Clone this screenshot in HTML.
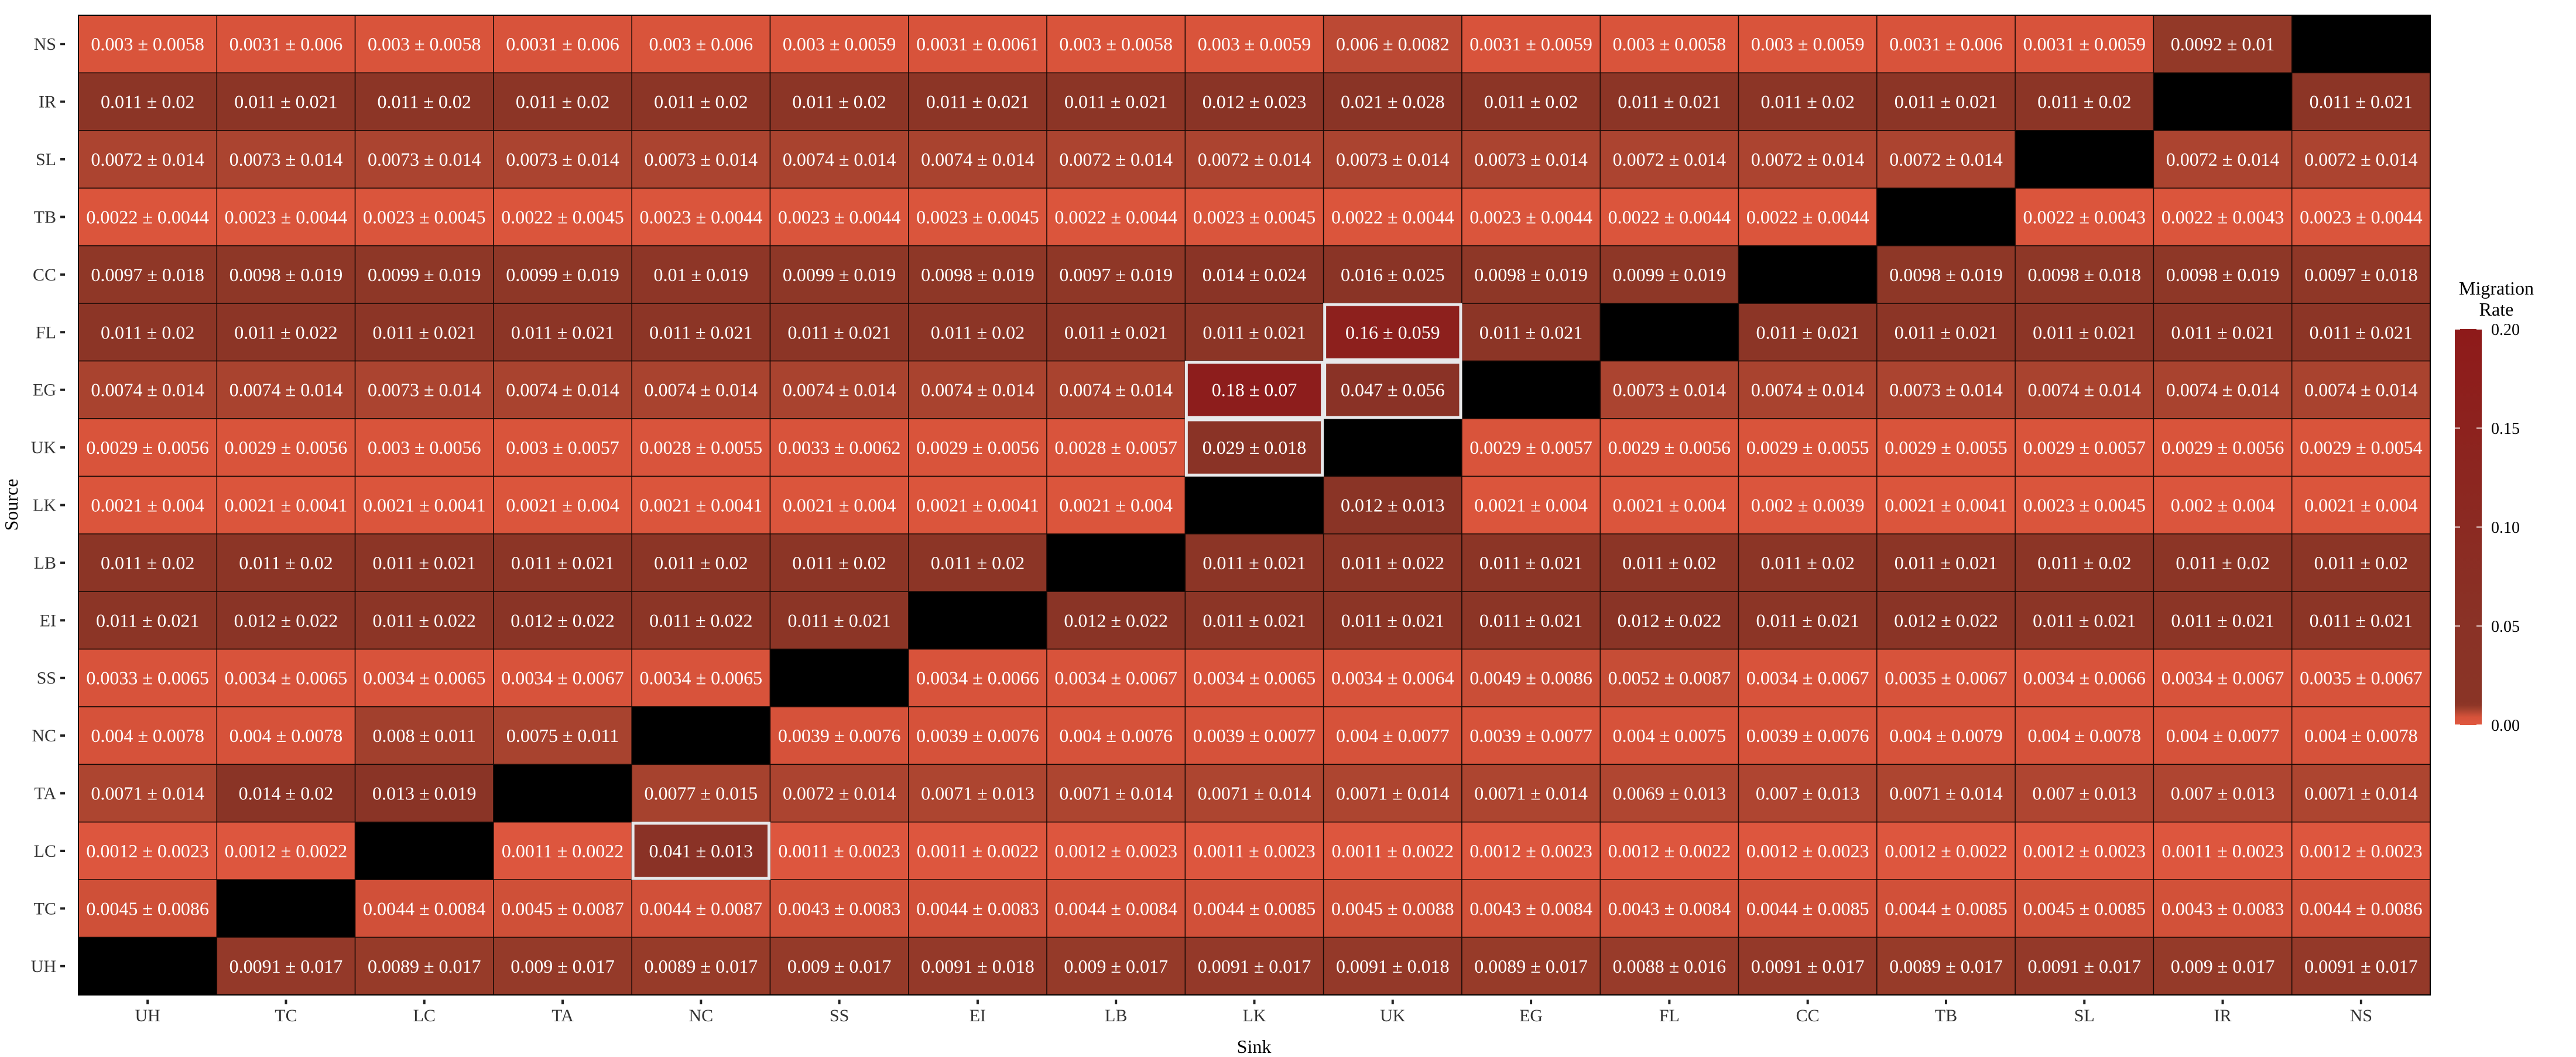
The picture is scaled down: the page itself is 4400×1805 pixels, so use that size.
<!DOCTYPE html>
<html><head><meta charset="utf-8"><style>
html,body{margin:0;padding:0;background:#fff;}
svg{display:block;font-family:"Liberation Serif",serif;}
</style></head><body>
<svg id="chart" width="4400" height="1805" viewBox="0 0 4400 1805" xmlns="http://www.w3.org/2000/svg">
<rect x="0" y="0" width="4400" height="1805" fill="#fff"/>
<g id="cells"></g>
<g id="hl"></g>
<g id="yaxis"></g>
<g id="xaxis"></g>
<text x="0" y="0" transform="translate(30,862) rotate(-90)" text-anchor="middle" font-size="32" fill="#000">Source</text>
<text x="2142" y="1798" text-anchor="middle" font-size="32" fill="#000">Sink</text>
<g id="legend"></g>
</svg>
<script>
const rowLabels = ["NS","IR","SL","TB","CC","FL","EG","UK","LK","LB","EI","SS","NC","TA","LC","TC","UH"];
const colLabels = ["UH","TC","LC","TA","NC","SS","EI","LB","LK","UK","EG","FL","CC","TB","SL","IR","NS"];
const means = [
[0.003,0.0031,0.003,0.0031,0.003,0.003,0.0031,0.003,0.003,0.006,0.0031,0.003,0.003,0.0031,0.0031,0.0092,null],
[0.011,0.011,0.011,0.011,0.011,0.011,0.011,0.011,0.012,0.021,0.011,0.011,0.011,0.011,0.011,null,0.011],
[0.0072,0.0073,0.0073,0.0073,0.0073,0.0074,0.0074,0.0072,0.0072,0.0073,0.0073,0.0072,0.0072,0.0072,null,0.0072,0.0072],
[0.0022,0.0023,0.0023,0.0022,0.0023,0.0023,0.0023,0.0022,0.0023,0.0022,0.0023,0.0022,0.0022,null,0.0022,0.0022,0.0023],
[0.0097,0.0098,0.0099,0.0099,0.01,0.0099,0.0098,0.0097,0.014,0.016,0.0098,0.0099,null,0.0098,0.0098,0.0098,0.0097],
[0.011,0.011,0.011,0.011,0.011,0.011,0.011,0.011,0.011,0.16,0.011,null,0.011,0.011,0.011,0.011,0.011],
[0.0074,0.0074,0.0073,0.0074,0.0074,0.0074,0.0074,0.0074,0.18,0.047,null,0.0073,0.0074,0.0073,0.0074,0.0074,0.0074],
[0.0029,0.0029,0.003,0.003,0.0028,0.0033,0.0029,0.0028,0.029,null,0.0029,0.0029,0.0029,0.0029,0.0029,0.0029,0.0029],
[0.0021,0.0021,0.0021,0.0021,0.0021,0.0021,0.0021,0.0021,null,0.012,0.0021,0.0021,0.002,0.0021,0.0023,0.002,0.0021],
[0.011,0.011,0.011,0.011,0.011,0.011,0.011,null,0.011,0.011,0.011,0.011,0.011,0.011,0.011,0.011,0.011],
[0.011,0.012,0.011,0.012,0.011,0.011,null,0.012,0.011,0.011,0.011,0.012,0.011,0.012,0.011,0.011,0.011],
[0.0033,0.0034,0.0034,0.0034,0.0034,null,0.0034,0.0034,0.0034,0.0034,0.0049,0.0052,0.0034,0.0035,0.0034,0.0034,0.0035],
[0.004,0.004,0.008,0.0075,null,0.0039,0.0039,0.004,0.0039,0.004,0.0039,0.004,0.0039,0.004,0.004,0.004,0.004],
[0.0071,0.014,0.013,null,0.0077,0.0072,0.0071,0.0071,0.0071,0.0071,0.0071,0.0069,0.007,0.0071,0.007,0.007,0.0071],
[0.0012,0.0012,null,0.0011,0.041,0.0011,0.0011,0.0012,0.0011,0.0011,0.0012,0.0012,0.0012,0.0012,0.0012,0.0011,0.0012],
[0.0045,null,0.0044,0.0045,0.0044,0.0043,0.0044,0.0044,0.0044,0.0045,0.0043,0.0043,0.0044,0.0044,0.0045,0.0043,0.0044],
[null,0.0091,0.0089,0.009,0.0089,0.009,0.0091,0.009,0.0091,0.0091,0.0089,0.0088,0.0091,0.0089,0.0091,0.009,0.0091]
];
const sds = [
[0.0058,0.006,0.0058,0.006,0.006,0.0059,0.0061,0.0058,0.0059,0.0082,0.0059,0.0058,0.0059,0.006,0.0059,0.01,null],
[0.02,0.021,0.02,0.02,0.02,0.02,0.021,0.021,0.023,0.028,0.02,0.021,0.02,0.021,0.02,null,0.021],
[0.014,0.014,0.014,0.014,0.014,0.014,0.014,0.014,0.014,0.014,0.014,0.014,0.014,0.014,null,0.014,0.014],
[0.0044,0.0044,0.0045,0.0045,0.0044,0.0044,0.0045,0.0044,0.0045,0.0044,0.0044,0.0044,0.0044,null,0.0043,0.0043,0.0044],
[0.018,0.019,0.019,0.019,0.019,0.019,0.019,0.019,0.024,0.025,0.019,0.019,null,0.019,0.018,0.019,0.018],
[0.02,0.022,0.021,0.021,0.021,0.021,0.02,0.021,0.021,0.059,0.021,null,0.021,0.021,0.021,0.021,0.021],
[0.014,0.014,0.014,0.014,0.014,0.014,0.014,0.014,0.07,0.056,null,0.014,0.014,0.014,0.014,0.014,0.014],
[0.0056,0.0056,0.0056,0.0057,0.0055,0.0062,0.0056,0.0057,0.018,null,0.0057,0.0056,0.0055,0.0055,0.0057,0.0056,0.0054],
[0.004,0.0041,0.0041,0.004,0.0041,0.004,0.0041,0.004,null,0.013,0.004,0.004,0.0039,0.0041,0.0045,0.004,0.004],
[0.02,0.02,0.021,0.021,0.02,0.02,0.02,null,0.021,0.022,0.021,0.02,0.02,0.021,0.02,0.02,0.02],
[0.021,0.022,0.022,0.022,0.022,0.021,null,0.022,0.021,0.021,0.021,0.022,0.021,0.022,0.021,0.021,0.021],
[0.0065,0.0065,0.0065,0.0067,0.0065,null,0.0066,0.0067,0.0065,0.0064,0.0086,0.0087,0.0067,0.0067,0.0066,0.0067,0.0067],
[0.0078,0.0078,0.011,0.011,null,0.0076,0.0076,0.0076,0.0077,0.0077,0.0077,0.0075,0.0076,0.0079,0.0078,0.0077,0.0078],
[0.014,0.02,0.019,null,0.015,0.014,0.013,0.014,0.014,0.014,0.014,0.013,0.013,0.014,0.013,0.013,0.014],
[0.0023,0.0022,null,0.0022,0.013,0.0023,0.0022,0.0023,0.0023,0.0022,0.0023,0.0022,0.0023,0.0022,0.0023,0.0023,0.0023],
[0.0086,null,0.0084,0.0087,0.0087,0.0083,0.0083,0.0084,0.0085,0.0088,0.0084,0.0084,0.0085,0.0085,0.0085,0.0083,0.0086],
[null,0.017,0.017,0.017,0.017,0.017,0.018,0.017,0.017,0.018,0.017,0.016,0.017,0.017,0.017,0.017,0.017]
];
const highlighted = [["FL","UK"],["EG","LK"],["EG","UK"],["UK","LK"],["LC","NC"]];
const legendTicks = [0, 0.05, 0.10, 0.15, 0.20];
const legendTickLabels = ["0.00","0.05","0.10","0.15","0.20"];

const NS = "http://www.w3.org/2000/svg";
const PL = 134, PT = 26, PR = 4151, PB = 1699;
const cw = (PR - PL) / colLabels.length, ch = (PB - PT) / rowLabels.length;
function xPos(i){ return PL + i * cw; }
function yPos(j){ return PT + j * ch; }
const stops = [[0,[224,88,63]],[0.004,[214,82,58]],[0.0075,[168,67,47]],[0.0095,[143,55,39]],[0.012,[138,52,38]],[0.05,[138,50,38]],[0.2,[142,26,26]]];
function color(v){
  if (v <= stops[0][0]) return "rgb("+stops[0][1]+")";
  for (let k=1;k<stops.length;k++){
    if (v <= stops[k][0]){
      const t=(v-stops[k-1][0])/(stops[k][0]-stops[k-1][0]);
      const a=stops[k-1][1], b=stops[k][1];
      return "rgb("+a.map((c,i)=>Math.round(c+(b[i]-c)*t)).join(",")+")";
    }
  }
  return "rgb("+stops[stops.length-1][1]+")";
}
function mk(tag, attrs, parent){
  const e=document.createElementNS(NS,tag);
  for (const k in attrs) e.setAttribute(k, attrs[k]);
  parent.appendChild(e); return e;
}
const gC=document.getElementById("cells");
for (let r=0;r<rowLabels.length;r++){
  for (let c=0;c<colLabels.length;c++){
    const m=means[r][c];
    const rect=mk("rect",{x:xPos(c),y:yPos(r),width:cw,height:ch,fill:m==null?"#000":color(m),stroke:"#1a0a06","stroke-width":1.5},gC);
    
    
    if (m!=null){
      const t=mk("text",{x:xPos(c)+cw/2,y:yPos(r)+ch/2+11,"text-anchor":"middle","font-size":32,fill:"#fff"},gC);
      t.textContent=m+" \u00b1 "+sds[r][c];
      
      
    }
  }
}
mk("rect",{x:PL,y:PT,width:PR-PL,height:PB-PT,fill:"none",stroke:"#000","stroke-width":2},gC);
const gH=document.getElementById("hl");
highlighted.forEach(h=>{
  const r=rowLabels.indexOf(h[0]), c=colLabels.indexOf(h[1]);
  const b=mk("rect",{x:xPos(c)+2,y:yPos(r)+2,width:cw-4,height:ch-4,fill:"none",stroke:"#e8e8ea","stroke-width":5},gH);
  
  
});
const gY=document.getElementById("yaxis");
rowLabels.forEach((l,j)=>{
  const cy=yPos(j)+ch/2;
  mk("rect",{x:103,y:cy-2,width:8,height:4,fill:"#222"},gY);
  const t=mk("text",{x:96,y:cy+10,"text-anchor":"end","font-size":30,fill:"#333"},gY);
  t.textContent=l;
  
  
});
const gX=document.getElementById("xaxis");
colLabels.forEach((l,i)=>{
  const cx=xPos(i)+cw/2;
  mk("rect",{x:cx-2,y:1707,width:4,height:8,fill:"#222"},gX);
  const t=mk("text",{x:cx,y:1744,"text-anchor":"middle","font-size":30,fill:"#333"},gX);
  t.textContent=l;
  
  
});
const gL=document.getElementById("legend");
const LX=4193, LW=46, LT=562, LB=1238;
function ly(v){ return LB - (v/0.2)*(LB-LT); }
const defs=mk("defs",{},gL);
const grad=mk("linearGradient",{id:"lg",x1:0,y1:1,x2:0,y2:0},defs);
[0,0.002,0.004,0.006,0.008,0.01,0.012,0.05,0.1,0.15,0.2].forEach(v=>{
  mk("stop",{offset:v/0.2,"stop-color":color(v)},grad);
});
const bar=mk("rect",{x:LX,y:LT,width:LW,height:LB-LT,fill:"url(#lg)"},gL);


legendTicks.forEach((v,k)=>{
  const y=ly(v);
  mk("line",{x1:LX,x2:LX+9,y1:y,y2:y,stroke:"#fff","stroke-width":1.5},gL);
  mk("line",{x1:LX+LW-9,x2:LX+LW,y1:y,y2:y,stroke:"#fff","stroke-width":1.5},gL);
  const t=mk("text",{x:4255,y:y+10,"font-size":28,fill:"#000"},gL);
  t.textContent=legendTickLabels[k];
  
  
});
const t1=mk("text",{x:4264,y:503,"text-anchor":"middle","font-size":32,fill:"#000"},gL);
t1.textContent="Migration";


const t2=mk("text",{x:4264,y:539,"text-anchor":"middle","font-size":32,fill:"#000"},gL);
t2.textContent="Rate";


</script>
</body></html>
